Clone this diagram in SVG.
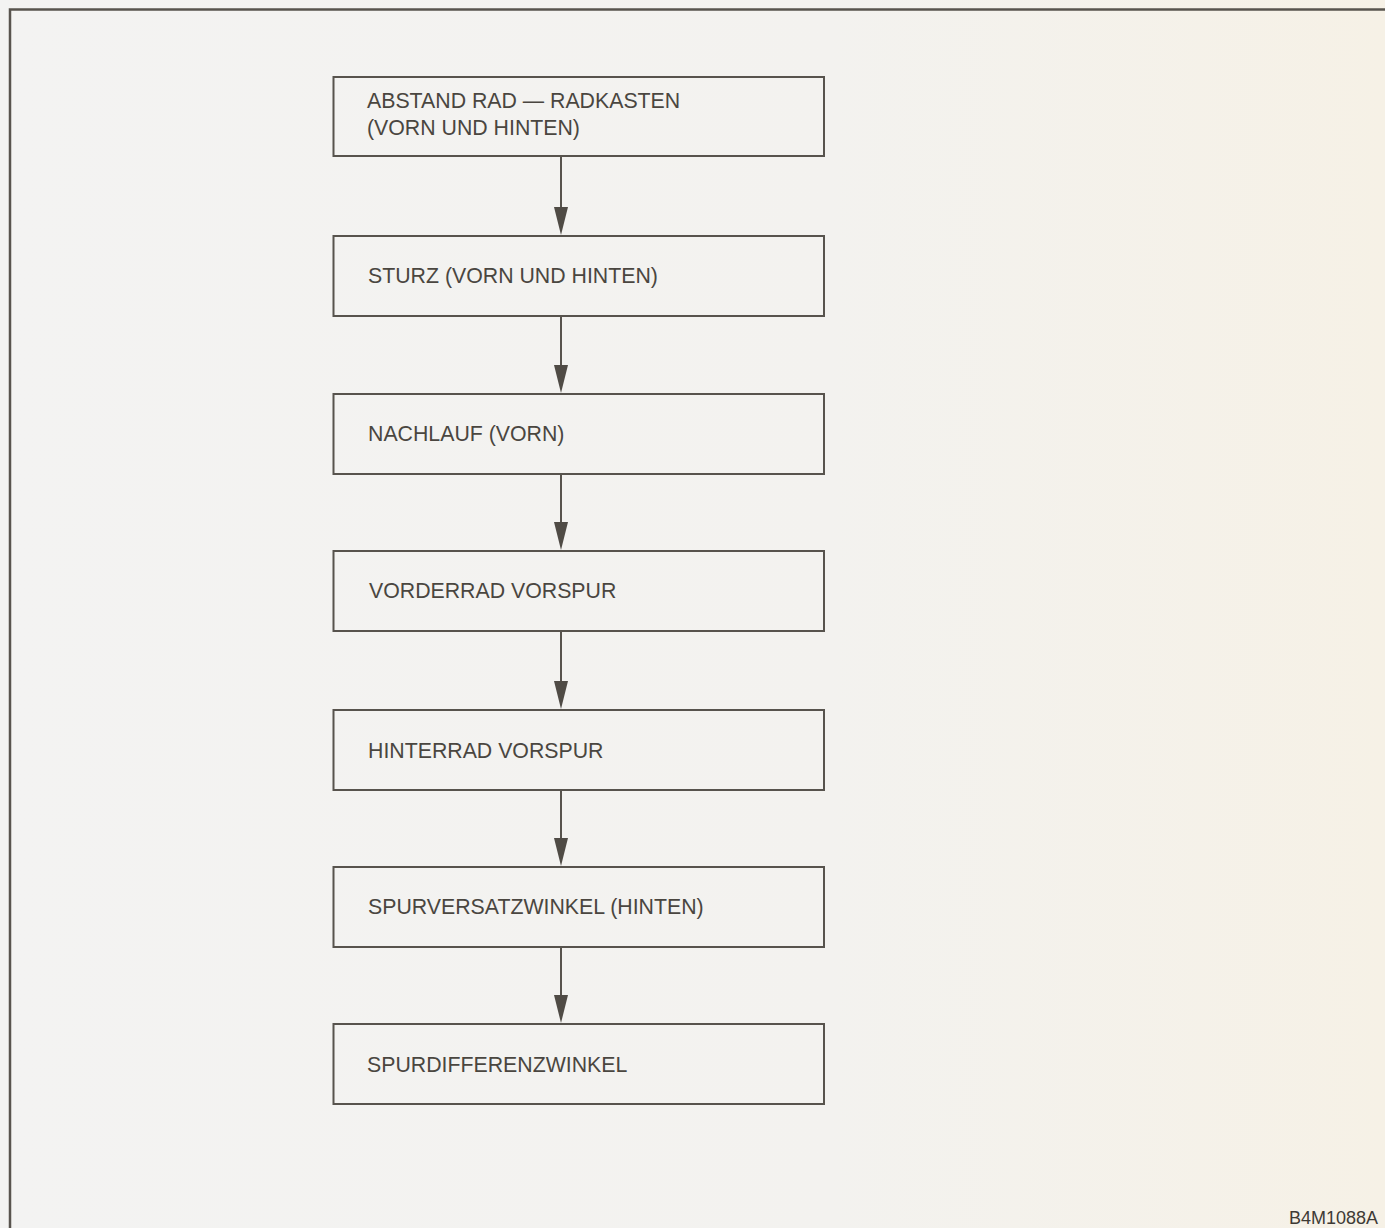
<svg xmlns="http://www.w3.org/2000/svg" width="1385" height="1228" viewBox="0 0 1385 1228">
<defs>
<linearGradient id="bg" x1="0" y1="0" x2="1" y2="0">
<stop offset="0" stop-color="#f3f3f2"/>
<stop offset="0.6" stop-color="#f3f2ef"/>
<stop offset="1" stop-color="#f6f1e6"/>
</linearGradient>
<style>
.box{fill:none;stroke:#57534d;stroke-width:2}
.t{font-family:"Liberation Sans",Arial,sans-serif;font-size:21.3px;fill:#4a4640}
.c{stroke:#57534d;stroke-width:2;fill:none}
.h{fill:#4f4b45}
.f{stroke:#58544e;stroke-width:2.5;fill:none}
</style>
</defs>
<rect width="1385" height="1228" fill="url(#bg)"/>
<path class="f" d="M10,1228 V9.5 H1385"/>
<g id="connectors">
<line class="c" x1="561" y1="156" x2="561" y2="210"/><path class="h" d="M554,207 L568,207 L561,235 Z"/>
<line class="c" x1="561" y1="316" x2="561" y2="368"/><path class="h" d="M554,365 L568,365 L561,393 Z"/>
<line class="c" x1="561" y1="474" x2="561" y2="525"/><path class="h" d="M554,522 L568,522 L561,550 Z"/>
<line class="c" x1="561" y1="631" x2="561" y2="684"/><path class="h" d="M554,681 L568,681 L561,709 Z"/>
<line class="c" x1="561" y1="790" x2="561" y2="841"/><path class="h" d="M554,838 L568,838 L561,866 Z"/>
<line class="c" x1="561" y1="947" x2="561" y2="998"/><path class="h" d="M554,995 L568,995 L561,1023 Z"/>
</g>
<g id="n1"><rect class="box" x="333.5" y="77" width="490.5" height="79"/><text class="t" x="367" y="108">ABSTAND RAD — RADKASTEN</text><text class="t" x="367" y="135">(VORN UND HINTEN)</text></g>
<g id="n2"><rect class="box" x="333.5" y="236" width="490.5" height="80"/><text class="t" x="368" y="283">STURZ (VORN UND HINTEN)</text></g>
<g id="n3"><rect class="box" x="333.5" y="394" width="490.5" height="80"/><text class="t" x="368" y="441">NACHLAUF (VORN)</text></g>
<g id="n4"><rect class="box" x="333.5" y="551" width="490.5" height="80"/><text class="t" x="369" y="598">VORDERRAD VORSPUR</text></g>
<g id="n5"><rect class="box" x="333.5" y="710" width="490.5" height="80"/><text class="t" x="368" y="758">HINTERRAD VORSPUR</text></g>
<g id="n6"><rect class="box" x="333.5" y="867" width="490.5" height="80"/><text class="t" x="368" y="914">SPURVERSATZWINKEL (HINTEN)</text></g>
<g id="n7"><rect class="box" x="333.5" y="1024" width="490.5" height="80"/><text class="t" x="367" y="1072">SPURDIFFERENZWINKEL</text></g>
<text x="1289" y="1224" style="font-family:'Liberation Sans',Arial,sans-serif;font-size:18px;fill:#3e3a35">B4M1088A</text>
</svg>
